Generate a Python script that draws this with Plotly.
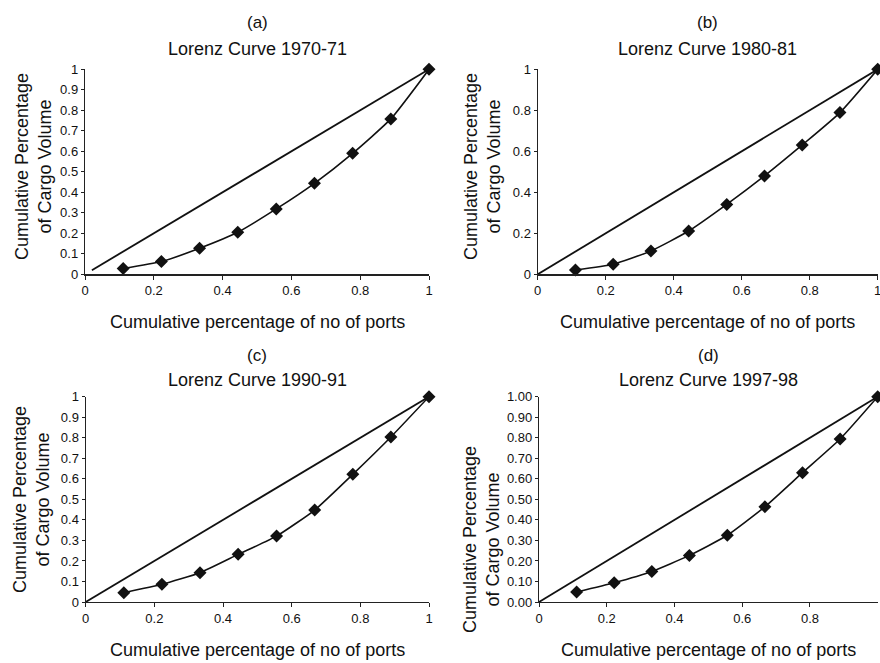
import plotly.graph_objects as go

# ---- data ----
ports_x = [0.111, 0.222, 0.333, 0.444, 0.556, 0.667, 0.778, 0.889, 1.0]
cargo_1970 = [0.028, 0.062, 0.127, 0.205, 0.319, 0.444, 0.590, 0.758, 1.0]
cargo_1980 = [0.021, 0.049, 0.114, 0.211, 0.341, 0.480, 0.631, 0.789, 1.0]
cargo_1990 = [0.045, 0.086, 0.143, 0.232, 0.321, 0.448, 0.622, 0.804, 1.0]
cargo_1997 = [0.049, 0.094, 0.149, 0.227, 0.325, 0.464, 0.630, 0.794, 1.0]

equality_a_x = [0.02, 1.0]
equality_a_y = [0.02, 1.0]
equality_x = [0.0, 1.0]
equality_y = [0.0, 1.0]

panel_letters = ["(a)", "(b)", "(c)", "(d)"]
panel_titles = ["Lorenz Curve 1970-71", "Lorenz Curve 1980-81",
                "Lorenz Curve 1990-91", "Lorenz Curve 1997-98"]

x_ticks_full = [0, 0.2, 0.4, 0.6, 0.8, 1]
x_ticklabels_full = ["0", "0.2", "0.4", "0.6", "0.8", "1"]
x_ticks_d = [0, 0.2, 0.4, 0.6, 0.8]
x_ticklabels_d = ["0", "0.2", "0.4", "0.6", "0.8"]

y_ticks_a = [0, 0.1, 0.2, 0.3, 0.4, 0.5, 0.6, 0.7, 0.8, 0.9, 1]
y_ticklabels_a = ["0", "0.1", "0.2", "0.3", "0.4", "0.5", "0.6", "0.7", "0.8", "0.9", "1"]
y_ticks_b = [0, 0.2, 0.4, 0.6, 0.8, 1]
y_ticklabels_b = ["0", "0.2", "0.4", "0.6", "0.8", "1"]
y_ticks_d = [0, 0.1, 0.2, 0.3, 0.4, 0.5, 0.6, 0.7, 0.8, 0.9, 1]
y_ticklabels_d = ["0.00", "0.10", "0.20", "0.30", "0.40", "0.50",
                  "0.60", "0.70", "0.80", "0.90", "1.00"]

x_title = "Cumulative percentage of no of ports"
y_title = "Cumulative Percentage<br>of Cargo Volume"

# ---- layout geometry (pixels of the 880x663 page) ----
W, H = 880, 663
FONT = "Liberation Sans, Arial, sans-serif"

def px_x(p):
    return p / W

def px_y(p):
    return 1 - p / H

panels = [
    dict(x0=85, x1=429, ytop=69.3, ybot=274.3, cargo=cargo_1970,
         ex=equality_a_x, ey=equality_a_y, xt=x_ticks_full, xtl=x_ticklabels_full,
         yt=y_ticks_a, ytl=y_ticklabels_a,
         letter_y=23, title_y=49, xtitle_y=322, ytitle_x=33, ytitle_y=167),
    dict(x0=537.7, x1=877.7, ytop=69.3, ybot=274.3, cargo=cargo_1980,
         ex=equality_x, ey=equality_y, xt=x_ticks_full, xtl=x_ticklabels_full,
         yt=y_ticks_b, ytl=y_ticklabels_b,
         letter_y=23, title_y=49, xtitle_y=322, ytitle_x=482, ytitle_y=167),
    dict(x0=85.7, x1=429, ytop=396.7, ybot=602, cargo=cargo_1990,
         ex=equality_x, ey=equality_y, xt=x_ticks_full, xtl=x_ticklabels_full,
         yt=y_ticks_a, ytl=y_ticklabels_a,
         letter_y=355, title_y=380, xtitle_y=650, ytitle_x=31, ytitle_y=500),
    dict(x0=539, x1=877.7, ytop=396.7, ybot=602, cargo=cargo_1997,
         ex=equality_x, ey=equality_y, xt=x_ticks_d, xtl=x_ticklabels_d,
         yt=y_ticks_d, ytl=y_ticklabels_d,
         letter_y=355, title_y=380, xtitle_y=650, ytitle_x=481, ytitle_y=540),
]

fig = go.Figure()
annotations = []
layout_axes = {}

for i, p in enumerate(panels):
    n = i + 1
    xa = "x" if n == 1 else f"x{n}"
    ya = "y" if n == 1 else f"y{n}"
    fig.add_trace(go.Scatter(
        x=p["ex"], y=p["ey"], mode="lines", xaxis=xa, yaxis=ya,
        line=dict(color="#111111", width=1.8), cliponaxis=False, showlegend=False,
        hoverinfo="skip"))
    fig.add_trace(go.Scatter(
        x=ports_x, y=p["cargo"], mode="lines+markers", xaxis=xa, yaxis=ya,
        line=dict(color="#111111", width=1.6, shape="spline", smoothing=0.5),
        marker=dict(symbol="diamond", size=10, color="#111111"),
        cliponaxis=False, showlegend=False))

    xkey = "xaxis" if n == 1 else f"xaxis{n}"
    ykey = "yaxis" if n == 1 else f"yaxis{n}"
    layout_axes[xkey] = dict(
        domain=[px_x(p["x0"]), px_x(p["x1"])], range=[0, 1], anchor=ya,
        tickmode="array", tickvals=p["xt"], ticktext=p["xtl"],
        showgrid=False, zeroline=False, showline=True, linecolor="#222222",
        linewidth=1.2, ticks="outside", ticklen=4, tickcolor="#222222",
        ticklabeloverflow="allow",
        tickfont=dict(family=FONT, size=13, color="#111111"), fixedrange=True)
    layout_axes[ykey] = dict(
        domain=[px_y(p["ybot"]), px_y(p["ytop"])], range=[0, 1], anchor=xa,
        tickmode="array", tickvals=p["yt"], ticktext=p["ytl"],
        showgrid=False, zeroline=False, showline=True, linecolor="#222222",
        linewidth=1.2, ticks="outside", ticklen=3, tickcolor="#222222",
        tickfont=dict(family=FONT, size=13, color="#111111"), fixedrange=True)

    cx = (p["x0"] + p["x1"]) / 2
    annotations.append(dict(text=panel_letters[i], x=px_x(cx), y=px_y(p["letter_y"]),
                            xref="paper", yref="paper", showarrow=False,
                            xanchor="center", yanchor="middle",
                            font=dict(family=FONT, size=17, color="#111111")))
    annotations.append(dict(text=panel_titles[i], x=px_x(cx), y=px_y(p["title_y"]),
                            xref="paper", yref="paper", showarrow=False,
                            xanchor="center", yanchor="middle",
                            font=dict(family=FONT, size=18, color="#111111")))
    annotations.append(dict(text=x_title, x=px_x(cx), y=px_y(p["xtitle_y"]),
                            xref="paper", yref="paper", showarrow=False,
                            xanchor="center", yanchor="middle",
                            font=dict(family=FONT, size=18, color="#111111")))
    annotations.append(dict(text=y_title, x=px_x(p["ytitle_x"]), y=px_y(p["ytitle_y"]),
                            xref="paper", yref="paper", showarrow=False, textangle=-90,
                            xanchor="center", yanchor="middle",
                            font=dict(family=FONT, size=18, color="#111111")))

fig.update_layout(
    width=W, height=H,
    margin=dict(l=0, r=0, t=0, b=0, pad=0, autoexpand=False),
    paper_bgcolor="white", plot_bgcolor="white", hovermode=False,
    annotations=annotations, **layout_axes)

fig.write_html("out.html",
               config={"displayModeBar": False, "staticPlot": True},
               post_script="document.body.style.margin='0px';"
                           "document.body.style.overflow='hidden';")
